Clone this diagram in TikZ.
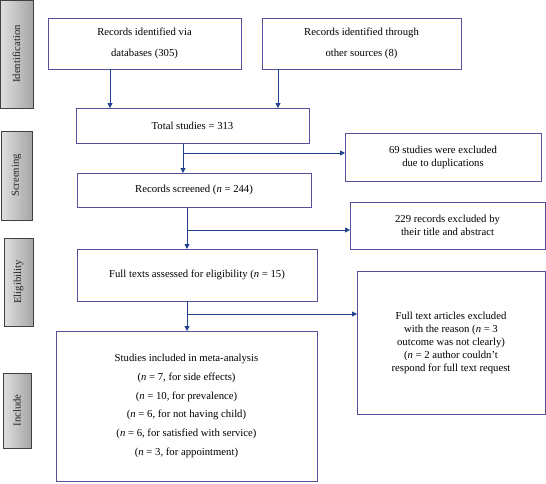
\documentclass[tikz,border=0pt]{standalone}
\usepackage{fontspec}
\setmainfont{Liberation Serif}
\usepackage{tikz}
\usepackage{xcolor}
\usetikzlibrary{arrows.meta}

\definecolor{boxline}{HTML}{574E9C}
\definecolor{flowline}{HTML}{22428F}

\begin{document}
\begin{tikzpicture}[x=1pt,y=-1pt,
    font=\fontsize{10.7}{13}\selectfont,
    box/.style={draw=boxline,line width=.9pt,inner sep=0pt,outer sep=0pt,
      align=center,anchor=north west},
    phase/.style={draw=black!75,line width=.9pt,left color=gray!25,right color=gray!70,
      inner sep=0pt,outer sep=0pt,anchor=north west,text=black!85},
    flow/.style={draw=flowline,line width=.9pt,-{Triangle[length=5pt,width=5pt]}},
    ]
  \useasboundingbox (0,0) rectangle (546,483);

  % phase labels down the left side
  \node (pid) [phase,minimum width=33pt,minimum height=108pt] at (0,0)
    {\rotatebox{90}{Identification}};
  \node (psc) [phase,minimum width=31pt,minimum height=89pt] at (1,131)
    {\rotatebox{90}{Screening}};
  \node (pel) [phase,minimum width=29pt,minimum height=88pt] at (4,238)
    {\rotatebox{90}{Eligibility}};
  \node (pin) [phase,minimum width=28pt,minimum height=75pt] at (3,373)
    {\rotatebox{90}{Include}};

  % main column
  \node (db) [box,minimum width=193pt,minimum height=51pt] at (48,18)
    {Records identified via\\[8pt]databases (305)};
  \node (os) [box,minimum width=199pt,minimum height=51pt] at (262,18)
    {Records identified through\\[8pt]other sources (8)};
  \node (tot) [box,minimum width=233pt,minimum height=35pt] at (76,108)
    {Total studies = 313};
  \node (scr) [box,minimum width=234pt,minimum height=34pt] at (77,173)
    {Records screened (\textit{n} = 244)};
  \node (full) [box,minimum width=240pt,minimum height=52pt] at (77,249)
    {Full texts assessed for eligibility (\textit{n} = 15)};
  \node (inc) [box,minimum width=261pt,minimum height=150pt] at (56,331)
    {Studies included in meta-analysis\\[5.7pt]
     (\textit{n} = 7, for side effects)\\[5.7pt]
     (\textit{n} = 10, for prevalence)\\[5.7pt]
     (\textit{n} = 6, for not having child)\\[5.7pt]
     (\textit{n} = 6, for satisfied with service)\\[5.7pt]
     (\textit{n} = 3, for appointment)};

  % exclusions
  \node (ex1) [box,minimum width=196pt,minimum height=48pt] at (345,133)
    {69 studies were excluded\\due to duplications};
  \node (ex2) [box,minimum width=195pt,minimum height=47pt] at (350,202)
    {229 records excluded by\\their title and abstract};
  \node (ex3) [box,minimum width=188pt,minimum height=143pt] at (357,271)
    {Full text articles excluded\\with the reason (\textit{n} = 3\\
     outcome was not clearly)\\(\textit{n} = 2 author couldn't\\
     respond for full text request};

  \path (db.south) +(-34.5,0) coordinate (dbo);
  \path (os.south) +(-83.5,0) coordinate (oso);
  \draw[flow] (dbo) -- (dbo |- tot.north);
  \draw[flow] (oso) -- (oso |- tot.north);

  \path (tot.south west) +(107,10) coordinate (tbr);
  \draw[flow] (tot.south -| tbr) -- (scr.north -| tbr);
  \draw[flow] (tbr) -- (tbr -| ex1.west);

  \path (scr.south west) +(110,23) coordinate (sbr);
  \draw[flow] (scr.south -| sbr) -- (full.north -| sbr);
  \draw[flow] (sbr) -- (sbr -| ex2.west);

  \path (full.south west) +(110,13) coordinate (fbr);
  \draw[flow] (full.south -| fbr) -- (inc.north -| fbr);
  \draw[flow] (fbr) -- (fbr -| ex3.west);
\end{tikzpicture}
\end{document}
